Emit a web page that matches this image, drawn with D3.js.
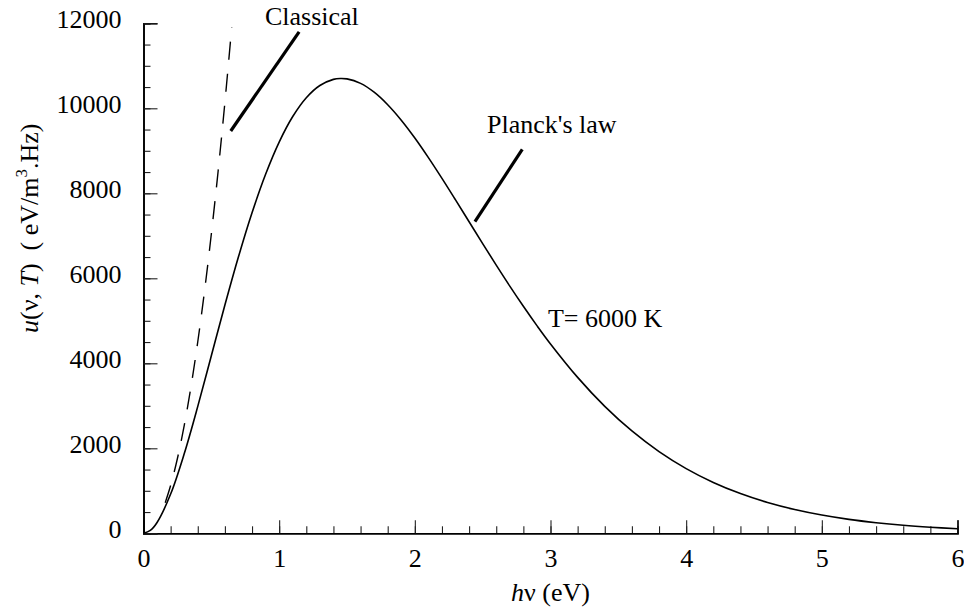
<!DOCTYPE html>
<html>
<head>
<meta charset="utf-8">
<script src="https://cdn.jsdelivr.net/npm/d3@7"></script>
<style>
  html, body { margin: 0; padding: 0; background: #fff; }
  svg { display: block; font-family: "Liberation Serif", "Times New Roman", Times, Tinos, "DejaVu Serif", serif; }
  svg text { font-family: "Liberation Serif", "Times New Roman", Times, Tinos, "DejaVu Serif", serif !important; fill: #000; }
</style>
</head>
<body>
<svg id="chart" width="964" height="609"></svg>
<script>
// Photon energy hν (eV) and Planck spectral energy density at T = 6000 K (eV/m^3.Hz)
const planckEnergy = [0, 0.05, 0.1, 0.2, 0.3, 0.4, 0.5, 0.6, 0.7, 0.8, 0.9, 1.0,
  1.1, 1.2, 1.3, 1.4, 1.45, 1.5, 1.6, 1.7, 1.8, 1.9, 2.0, 2.1, 2.2, 2.3, 2.4, 2.5,
  2.6, 2.7, 2.8, 2.9, 3.0, 3.2, 3.4, 3.6, 3.8, 4.0, 4.2, 4.4, 4.6, 4.8, 5.0,
  5.2, 5.4, 5.6, 5.8, 6.0];
const planckValues = [0, 67, 255, 923, 1870, 2986, 4177, 5370, 6505, 7541, 8447, 9205,
  9806, 10249, 10537, 10681, 10702, 10692, 10586, 10378, 10084, 9720, 9301, 8840, 8351, 7844, 7330, 6816,
  6310, 5817, 5342, 4887, 4456, 3669, 2987, 2408, 1923, 1523, 1197, 935, 725, 560, 430,
  328, 250, 189, 143, 107];

// Classical (Rayleigh–Jeans) curve, dashed
const classicalEnergy = [0.16, 0.2, 0.25, 0.3, 0.35, 0.4, 0.45, 0.5, 0.55, 0.6, 0.65];
const classicalValues = [721, 1127, 1760, 2535, 3450, 4507, 5704, 7042, 8520, 10140, 11900];

// Axis ticks
const xMajorTicks = [0, 1, 2, 3, 4, 5, 6];
const xMinorTicks = d3.range(0, 6.0001, 0.2).map(v => +v.toFixed(1));
const yMajorTicks = [0, 2000, 4000, 6000, 8000, 10000, 12000];
const yMinorTicks = d3.range(0, 12001, 500);

// Annotation labels (data coordinates) and pointer lines
const labelTexts = ["Classical", "Planck's law", "T= 6000 K"];
const labelE = [0.895, 2.532, 2.981];
const labelU = [11960, 9415, 4852];
const pointerE1 = [1.147, 2.792];
const pointerU1 = [11800, 9035];
const pointerE2 = [0.643, 2.443];
const pointerU2 = [9466, 7332];

const FONT = '"Liberation Serif", "Times New Roman", Times, Tinos, "DejaVu Serif", serif';
const svg = d3.select("#chart");
const x = d3.scaleLinear().domain([0, 6]).range([143.5, 957.5]);
const y = d3.scaleLinear().domain([0, 12000]).range([533.3, 23.3]);
const FS = 26;

// Bottom axis
const xAxisMinor = d3.axisBottom(x).tickValues(xMinorTicks).tickSize(-7).tickFormat("");
const xAxisMajor = d3.axisBottom(x).tickValues(xMajorTicks).tickSize(-13).tickFormat(d3.format("d"));
const gxm = svg.append("g").attr("transform", `translate(0,${y(0)})`).call(xAxisMinor);
const gx = svg.append("g").attr("transform", `translate(0,${y(0)})`).call(xAxisMajor);
[gxm, gx].forEach(g => {
  g.attr("font-family", FONT);
  g.select(".domain").attr("stroke", "#000").attr("stroke-width", 1.6);
  g.selectAll(".tick line").attr("stroke", "#222").attr("stroke-width", 1.1);
});
gx.selectAll(".tick text").attr("font-size", FS).attr("font-family", FONT)
  .attr("fill", "#000").attr("dy", 0).attr("y", 34);

// Left axis
const yAxisMinor = d3.axisLeft(y).tickValues(yMinorTicks).tickSize(-7).tickFormat("");
const yAxisMajor = d3.axisLeft(y).tickValues(yMajorTicks).tickSize(-14).tickFormat(d3.format("d"));
const gym = svg.append("g").attr("transform", `translate(${x(0)},0)`).call(yAxisMinor);
const gy = svg.append("g").attr("transform", `translate(${x(0)},0)`).call(yAxisMajor);
[gym, gy].forEach(g => {
  g.attr("font-family", FONT);
  g.select(".domain").attr("stroke", "#000").attr("stroke-width", 1.6);
  g.selectAll(".tick line").attr("stroke", "#222").attr("stroke-width", 1.1);
});
gy.selectAll(".tick text").attr("font-size", FS).attr("font-family", FONT)
  .attr("fill", "#000").attr("x", -22).attr("dy", 4);

// Curves
const planckData = planckEnergy.map((e, i) => [e, planckValues[i]]);
const classicalData = classicalEnergy.map((e, i) => [e, classicalValues[i]]);
const line = d3.line().x(d => x(d[0])).y(d => y(d[1])).curve(d3.curveCatmullRom.alpha(0.5));

svg.append("path").datum(planckData).attr("d", line)
  .attr("fill", "none").attr("stroke", "#000").attr("stroke-width", 1.6);
svg.append("path").datum(classicalData).attr("d", line)
  .attr("fill", "none").attr("stroke", "#000").attr("stroke-width", 1.4)
  .attr("stroke-dasharray", "18,14");

// Pointer lines
pointerE1.forEach((e, i) => {
  svg.append("line")
    .attr("x1", x(e)).attr("y1", y(pointerU1[i]))
    .attr("x2", x(pointerE2[i])).attr("y2", y(pointerU2[i]))
    .attr("stroke", "#000").attr("stroke-width", 3.2);
});

// Labels
labelTexts.forEach((t, i) => {
  svg.append("text").attr("x", x(labelE[i])).attr("y", y(labelU[i]))
    .attr("font-family", FONT).attr("font-size", FS).text(t);
});

// X axis title
const xt = svg.append("text").attr("x", x(3)).attr("y", 601)
  .attr("text-anchor", "middle").attr("font-family", FONT).attr("font-size", FS);
xt.append("tspan").attr("font-style", "italic").text("h");
xt.append("tspan").text("ν (eV)");

// Y axis title
const yt = svg.append("text").attr("transform", "translate(38,333) rotate(-90)")
  .attr("text-anchor", "start").attr("font-family", FONT).attr("font-size", FS);
yt.append("tspan").attr("font-style", "italic").text("u");
yt.append("tspan").text("(ν, ");
yt.append("tspan").attr("font-style", "italic").text("T");
yt.append("tspan").text(")\u00a0\u00a0( eV/m");
yt.append("tspan").attr("font-size", 17).attr("dy", -11).text("3");
yt.append("tspan").attr("dy", 11).text(".Hz)");
</script>
</body>
</html>
